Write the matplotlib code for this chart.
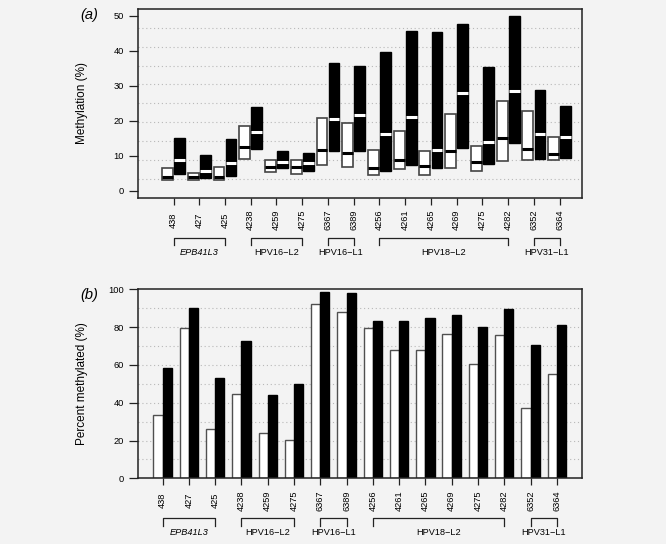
import matplotlib
matplotlib.use("Agg")
import matplotlib.pyplot as plt
import matplotlib.transforms as mtransforms
import numpy as np

plt.rcParams['font.family'] = ['Liberation Sans', 'DejaVu Sans']

# CpG site labels and gene/region groups
sites = ['438', '427', '425', '4238', '4259', '4275', '6367', '6389',
         '4256', '4261', '4265', '4269', '4275', '4282', '6352', '6364']
groups = ['EPB41L3', 'HPV16\u2212L2', 'HPV16\u2212L1', 'HPV18\u2212L2', 'HPV31\u2212L1']
group_start = [0, 3, 6, 8, 14]
group_end = [2, 5, 7, 13, 15]

# panel (a): methylation boxes (low, median, high), white = group 1, black = group 2
white_lo = [3.2, 3.0, 3.0, 9.2, 5.3, 4.7, 7.3, 6.8, 4.4, 6.1, 4.6, 6.5, 5.7, 8.5, 8.7, 8.8]
white_med = [4.0, 3.8, 3.9, 12.5, 6.7, 6.7, 11.6, 10.9, 6.6, 8.9, 7.0, 11.3, 8.1, 15.0, 12.0, 10.4]
white_hi = [6.4, 5.2, 6.9, 18.5, 8.7, 8.9, 20.9, 19.5, 11.6, 17.1, 11.3, 22.0, 12.9, 25.7, 22.9, 15.5]
black_lo = [4.8, 3.7, 4.2, 11.9, 6.4, 5.6, 11.4, 11.3, 5.6, 7.3, 6.4, 12.2, 7.6, 13.7, 9.2, 9.3]
black_med = [8.7, 5.6, 7.9, 16.9, 8.2, 7.9, 20.6, 21.8, 16.1, 21.0, 11.6, 28.1, 14.0, 28.6, 16.3, 15.4]
black_hi = [15.0, 10.1, 14.7, 23.9, 11.5, 10.7, 36.5, 35.8, 39.7, 45.8, 45.3, 47.8, 35.4, 50.1, 28.8, 24.3]

# panel (b): percent methylated
white_pct = [33.5, 79.7, 26.3, 44.6, 24.2, 20.5, 92.4, 88.2, 79.4, 67.9, 67.9, 76.2, 60.3, 76.0, 37.4, 55.4]
black_pct = [58.6, 90.0, 52.9, 72.9, 43.9, 50.1, 98.8, 98.1, 83.2, 83.2, 84.8, 86.4, 80.1, 89.8, 70.4, 81.0]

W, H = 666, 544
bg = '#f3f3f3'
fig = plt.figure(figsize=(W / 100, H / 100), dpi=100, facecolor=bg)
ax_a = fig.add_axes([137.7 / W, 1 - 197.7 / H, 444.6 / W, 188.7 / H], facecolor=bg)
ax_b = fig.add_axes([137.7 / W, 1 - 478.3 / H, 444.6 / W, 189.0 / H], facecolor=bg)

pos = np.arange(1, len(sites) + 1)


def stats(lo, med, hi):
    return [dict(med=m, q1=l, q3=h, whislo=l, whishi=h, fliers=[]) for l, m, h in zip(lo, med, hi)]


bw = 0.42
ax_a.bxp(stats(white_lo, white_med, white_hi), positions=pos - 0.235, widths=bw,
         patch_artist=True, showfliers=False, showcaps=False, manage_ticks=False,
         boxprops=dict(facecolor='white', edgecolor='#444444', linewidth=1.2),
         whiskerprops=dict(linewidth=0),
         medianprops=dict(color='black', linewidth=2.2, solid_capstyle='butt'))
ax_a.bxp(stats(black_lo, black_med, black_hi), positions=pos + 0.235, widths=bw,
         patch_artist=True, showfliers=False, showcaps=False, manage_ticks=False,
         boxprops=dict(facecolor='black', edgecolor='black', linewidth=1.0),
         whiskerprops=dict(linewidth=0),
         medianprops=dict(color='white', linewidth=2.2, solid_capstyle='butt'))

ya = (-2, 52)
ax_a.set_ylim(*ya)
ax_a.set_xlim(-0.391, 16.88)
for g in np.linspace(ya[0], ya[1], 11)[1:-1]:
    ax_a.axhline(g, color='#b8b8b8', lw=0.8, ls=(0, (1, 2.5)), zorder=0)
ax_a.set_yticks([0, 10, 20, 30, 40, 50])
ax_a.set_ylabel('Methylation (%)', fontsize=8.5)

# panel (b) bars
bar_w = 0.35
ax_b.bar(pos - bar_w / 2, white_pct, width=bar_w, color='white', edgecolor='#505050', linewidth=1.0, zorder=2)
ax_b.bar(pos + bar_w / 2, black_pct, width=bar_w, color='black', edgecolor='black', linewidth=1.0, zorder=2)
ax_b.set_ylim(0, 100)
ax_b.set_xlim(0.052, 16.97)
for g in range(10, 100, 10):
    ax_b.axhline(g, color='#b8b8b8', lw=0.8, ls=(0, (1, 2.5)), zorder=0)
ax_b.set_yticks(range(0, 101, 20))
ax_b.set_ylabel('Percent methylated (%)', fontsize=8.5)

for ax, bottom_px in [(ax_a, 197.7), (ax_b, 478.3)]:
    for s in ax.spines.values():
        s.set_color('#222222')
        s.set_linewidth(1.1)
    ax.set_xticks(pos)
    ax.set_xticklabels(sites, rotation=90, fontsize=6.7, va='center')
    ax.tick_params(axis='x', length=5.3, width=0.9, pad=10.8, color='#222222')
    ax.tick_params(axis='y', length=6.5, width=0.9, pad=3.4, labelsize=6.7, color='#222222')
    ax.yaxis.set_label_coords(-0.112, 0.5)
    tr = mtransforms.blended_transform_factory(ax.transData, fig.transFigure)
    y_line = 1 - (bottom_px + 40) / H
    y_end = 1 - (bottom_px + 47.2) / H
    y_txt = 1 - (bottom_px + 54.5) / H
    for name, i0, i1 in zip(groups, group_start, group_end):
        x0, x1 = pos[i0], pos[i1]
        ax.plot([x0, x0, x1, x1], [y_end, y_line, y_line, y_end], transform=tr,
                color='#222222', lw=0.9, clip_on=False)
        ax.text((x0 + x1) / 2, y_txt, name, transform=tr, ha='center', va='center',
                fontsize=6.6, style='italic' if name == 'EPB41L3' else 'normal')

fig.text(80.7 / W, 1 - 15 / H, '(a)', fontsize=10.5, style='italic', ha='left', va='center')
fig.text(80.7 / W, 1 - 295 / H, '(b)', fontsize=10.5, style='italic', ha='left', va='center')

fig.savefig('out.png', dpi=100, facecolor=bg)
